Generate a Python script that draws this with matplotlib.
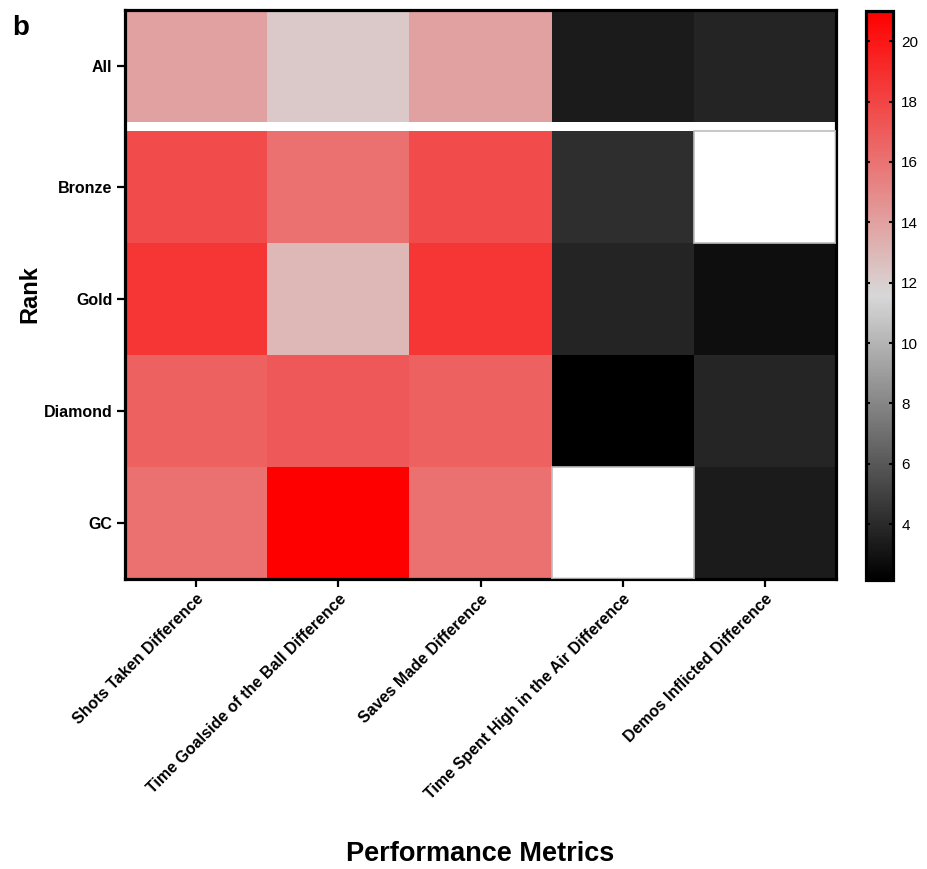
import numpy as np
import matplotlib.pyplot as plt
from matplotlib.colors import LinearSegmentedColormap, Normalize

plt.rcParams['font.family'] = ['Liberation Sans', 'DejaVu Sans']

ranks = ['All', 'Bronze', 'Gold', 'Diamond', 'GC']
metrics = ['Shots Taken Difference',
           'Time Goalside of the Ball Difference',
           'Saves Made Difference',
           'Time Spent High in the Air Difference',
           'Demos Inflicted Difference']

# one list per rank, in the order of `metrics` (nan = no value)
all_ranks = [14.0, 12.3, 14.0, 3.4, 3.7]
bronze = [17.7, 16.1, 17.7, 4.2, np.nan]
gold = [18.7, 13.0, 18.7, 3.7, 2.8]
diamond = [16.8, 17.1, 16.8, 2.15, 3.8]
gc = [16.1, 21.0, 16.1, np.nan, 3.4]

data = np.array([all_ranks, bronze, gold, diamond, gc])

cmap = LinearSegmentedColormap.from_list('blk_gry_red', ['#000000', '#d8d8d8', '#ff0000'])
cmap.set_bad('white')
norm = Normalize(vmin=np.nanmin(data), vmax=np.nanmax(data))

fig = plt.figure(figsize=(9.28, 8.69), dpi=100)
ax = fig.add_axes([125/928, 1 - 579/869, 711/928, 569/869])
cax = fig.add_axes([866/928, 1 - 580/869, 27/928, 569/869])

xedges = np.arange(len(metrics) + 1) - 0.5
# "All" row sits a bit higher, leaving a white strip above the per-rank rows
all_edges = np.array([-0.58, 0.42])
rank_edges = np.arange(0.5, len(ranks), 1.0)

ma = np.ma.masked_invalid(data)
ax.pcolormesh(xedges, all_edges, ma[:1], cmap=cmap, norm=norm)
mesh = ax.pcolormesh(xedges, rank_edges, ma[1:], cmap=cmap, norm=norm)

# faint outline round empty cells
for i in range(1, len(ranks)):
    for j in range(len(metrics)):
        if np.isnan(data[i, j]):
            ax.add_patch(plt.Rectangle((j - 0.5, i - 0.5), 1, 1, fill=False,
                                       ec='#bdbdbd', lw=1.2, zorder=3))

ax.set_xlim(-0.5, len(metrics) - 0.5)
ax.set_ylim(len(ranks) - 0.5, all_edges[0])

ytick_pos = [all_edges.mean()] + list(range(1, len(ranks)))
ax.set_yticks(ytick_pos)
ax.set_yticklabels(ranks, fontsize=11.5, fontweight='bold')
ax.set_xticks(range(len(metrics)))
ax.set_xticklabels(metrics, fontsize=11.5, fontweight='bold',
                   rotation=45, ha='right', rotation_mode='anchor')

for s in ax.spines.values():
    s.set_linewidth(2.3)
ax.tick_params(direction='out', length=6, width=1.6, pad=3)

ax.set_ylabel('Rank', fontsize=17, fontweight='bold', labelpad=2)
ax.set_xlabel('Performance Metrics', fontsize=19.5, fontweight='bold', labelpad=28)

cb = fig.colorbar(mesh, cax=cax)
cb.set_ticks([4, 6, 8, 10, 12, 14, 16, 18, 20])
cb.outline.set_linewidth(2.3)
cax.tick_params(direction='in', left=True, right=True, length=3, width=1.5,
                labelsize=11, pad=6)

fig.text(12/928, 1 - 28/869, 'b', fontsize=20, fontweight='bold', va='center')

fig.savefig('out.png', dpi=100)
